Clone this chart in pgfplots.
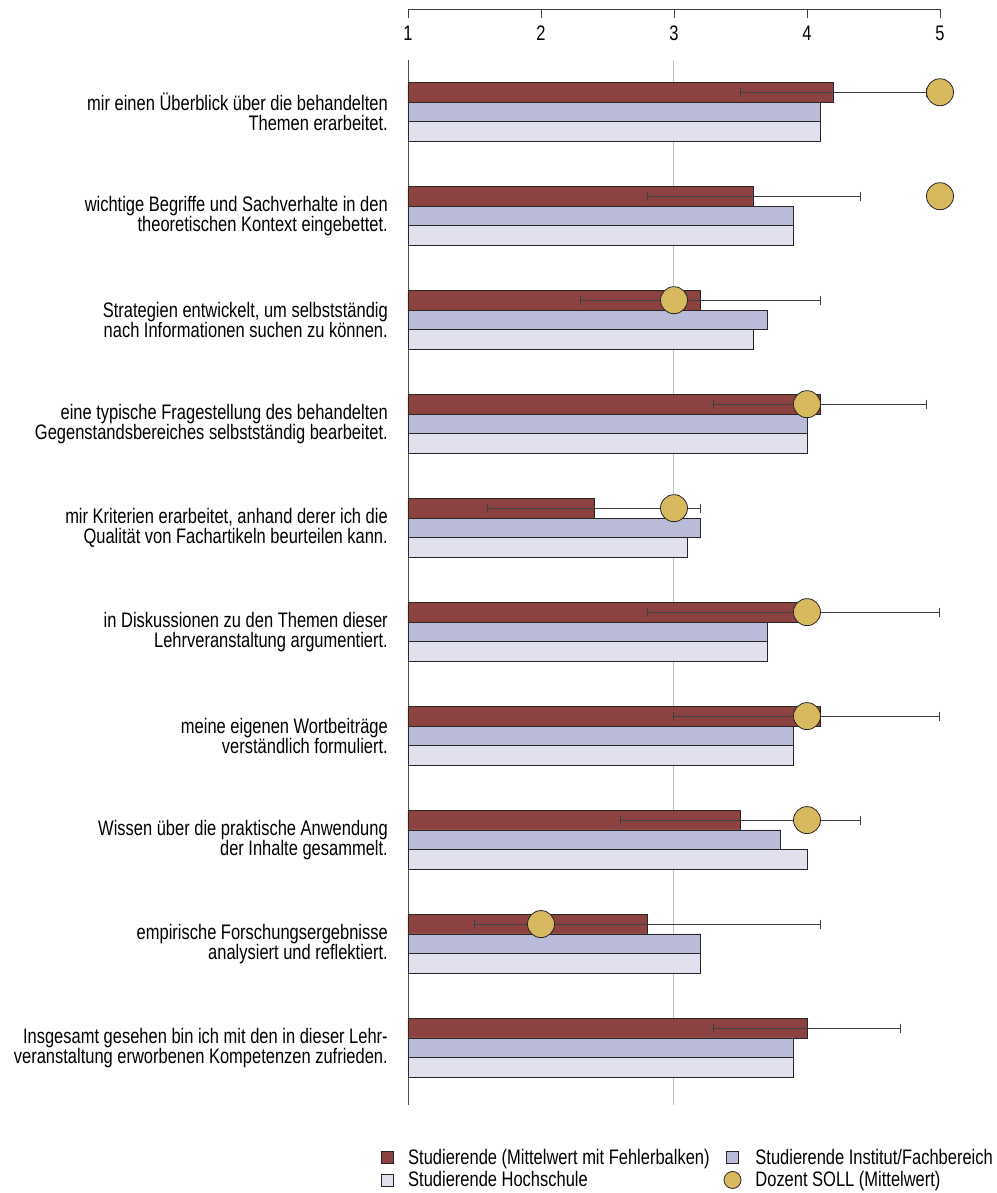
\documentclass[border=0pt]{standalone}
\usepackage{pgfplots}
\pgfplotsset{compat=1.18}
\usepackage{fontspec}
\setmainfont[FakeStretch=0.785]{Liberation Sans}
\definecolor{cRed}{RGB}{139,66,64}
\definecolor{cLav}{RGB}{185,187,216}
\definecolor{cLight}{RGB}{224,224,238}
\definecolor{cGold}{RGB}{217,185,96}
\newcommand{\ff}{\fontsize{21pt}{20.5pt}\selectfont}
\begin{document}
\begin{tikzpicture}[font=\ff]
\useasboundingbox (-408pt,-88pt) rectangle (588pt,1105pt);
% top scale
\begin{axis}[
  at={(0pt,1096pt)}, anchor=south west,
  scale only axis, width=532pt, height=5pt,
  xmin=1, xmax=5, ymin=0, ymax=1,
  axis x line*=bottom, axis y line=none,
  xtick={1,2,3,4,5}, xtick align=outside, major tick length=9pt,
  tick style={black!75, line width=0.8pt},
  x axis line style={black!75, line width=0.8pt},
  xticklabel style={font=\ff, inner sep=2pt, yshift=-6pt},
  /pgf/number format/assume math mode=true,
]
\end{axis}
\begin{axis}[
  at={(0pt,0pt)}, anchor=south west,
  scale only axis, width=532pt, height=1045pt,
  xmin=1, xmax=5, ymin=0.5, ymax=10.55, y dir=reverse,
  axis y line*=left, axis x line*=bottom,
  x axis line style={draw=none},
  y axis line style={black!70, line width=0.8pt},
  xtick={3}, xticklabels={}, xmajorgrids,
  major grid style={black!25, line width=1pt},
  major tick length=0pt,
  ytick={1,2,3,4,5,6,7,8,9,10},
  yticklabel style={align=right, font=\ff, inner sep=0pt, xshift=-20pt},
  yticklabels={
    {mir einen Überblick über die behandelten\\Themen erarbeitet.},
    {wichtige Begriffe und Sachverhalte in den\\theoretischen Kontext eingebettet.},
    {Strategien entwickelt, um selbstständig\\nach Informationen suchen zu können.},
    {eine typische Fragestellung des behandelten\\Gegenstandsbereiches selbstständig bearbeitet.},
    {mir Kriterien erarbeitet, anhand derer ich die\\Qualität von Fachartikeln beurteilen kann.},
    {in Diskussionen zu den Themen dieser\\Lehrveranstaltung argumentiert.},
    {meine eigenen Wortbeiträge\\verständlich formuliert.},
    {Wissen über die praktische Anwendung\\der Inhalte gesammelt.},
    {empirische Forschungsergebnisse\\analysiert und reflektiert.},
    {Insgesamt gesehen bin ich mit den in dieser Lehr-\\veranstaltung erworbenen Kompetenzen zufrieden.}
  },
  legend columns=2, legend cell align=left,
  legend style={at={(axis description cs:-0.056,-0.038)}, anchor=north west,
    draw=none, fill=none, font=\ff, row sep=2pt,
    /tikz/every odd column/.append style={column sep=12pt},
    /tikz/every even column/.append style={column sep=12pt}},
]
\addplot[xbar, bar width=0.19, bar shift=-0.19, fill=cRed, draw=black!85, line width=0.8pt,
  legend image code/.code={\draw[fill=cRed,draw=black!85,line width=0.8pt] (0pt,-6pt) rectangle (12pt,6pt);}]
  table[x=v, y=g] {
g v
1 4.2
2 3.6
3 3.2
4 4.1
5 2.4
6 4.0
7 4.1
8 3.5
9 2.8
10 4.0
};
\addlegendentry{Studierende (Mittelwert mit Fehlerbalken)}
\addplot[xbar, bar width=0.19, bar shift=0, fill=cLav, draw=black!85, line width=0.8pt,
  legend image code/.code={\draw[fill=cLav,draw=black!85,line width=0.8pt] (0pt,-6pt) rectangle (12pt,6pt);}]
  table[x=v, y=g] {
g v
1 4.1
2 3.9
3 3.7
4 4.0
5 3.2
6 3.7
7 3.9
8 3.8
9 3.2
10 3.9
};
\addlegendentry{Studierende Institut/Fachbereich}
\addplot[xbar, bar width=0.19, bar shift=0.19, fill=cLight, draw=black!85, line width=0.8pt,
  legend image code/.code={\draw[fill=cLight,draw=black!85,line width=0.8pt] (0pt,-6pt) rectangle (12pt,6pt);}]
  table[x=v, y=g] {
g v
1 4.1
2 3.9
3 3.6
4 4.0
5 3.1
6 3.7
7 3.9
8 4.0
9 3.2
10 3.9
};
\addlegendentry{Studierende Hochschule}
% error bars of the first series, at the red bar row
\addplot[forget plot, draw=none, mark=none,
  error bars/.cd, x dir=both, x explicit,
  error bar style={black!75, line width=0.9pt},
  error mark options={black!75, line width=1pt, mark size=4.5pt, rotate=90}]
  table[x=v, y=g, x error plus=ep, x error minus=em] {
g v em ep
0.81 4.2 0.7 0.7
1.81 3.6 0.8 0.8
2.81 3.2 0.9 0.9
3.81 4.1 0.8 0.8
4.81 2.4 0.8 0.8
5.81 4.0 1.2 1.0
6.81 4.1 1.1 0.9
7.81 3.5 0.9 0.9
8.81 2.8 1.3 1.3
9.81 4.0 0.7 0.7
};
\addplot[only marks, mark=*, mark size=13.5pt,
  mark options={fill=cGold, draw=black!85, line width=0.8pt},
  legend image code/.code={\draw[fill=cGold,draw=black!85,line width=0.8pt] (6pt,0pt) circle (8.5pt);}]
  table[x=v, y=g] {
g v
0.81 5
1.81 5
2.81 3
3.81 4
4.81 3
5.81 4
6.81 4
7.81 4
8.81 2
};
\addlegendentry{Dozent SOLL (Mittelwert)}
\end{axis}
\end{tikzpicture}
\end{document}
